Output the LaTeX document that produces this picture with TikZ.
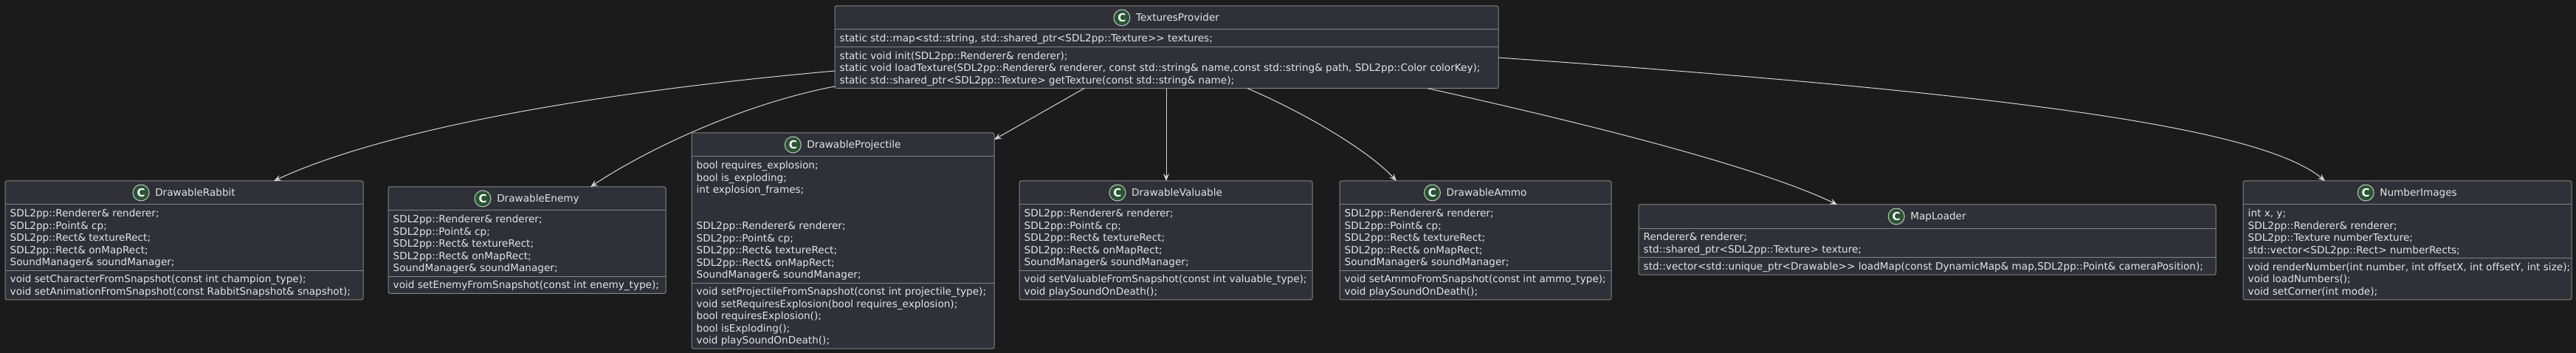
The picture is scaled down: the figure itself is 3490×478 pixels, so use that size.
\documentclass[tikz,border=0pt]{standalone}
\usepackage{fontspec}
\setmainfont{DejaVu Sans}[Ligatures={TeXOff,CommonOff}]
\usetikzlibrary{arrows.meta,calc}
\definecolor{bgcol}{HTML}{1B1B1B}
\definecolor{boxfill}{HTML}{2F3038}
\definecolor{boxline}{HTML}{858585}
\definecolor{txtcol}{HTML}{E6E6E6}
\definecolor{edgecol}{HTML}{D6D6D6}
\definecolor{iconfill}{HTML}{2A5433}
\definecolor{iconline}{HTML}{BFC8BF}
\tikzset{
  classbox/.style={draw=boxline, fill=boxfill, line width=1pt, rounded corners=2.5pt, inner sep=0pt, outer sep=0pt},
  sepline/.style={draw=boxline, line width=1pt},
  titletext/.style={text=txtcol, inner sep=0pt, font=\fontsize{13.6}{16.4}\selectfont},
  memtext/.style={text=txtcol, inner sep=0pt, anchor=base west, font=\fontsize{13.6}{16.4}\selectfont},
  cicon/.style={circle, draw=iconline, fill=iconfill, line width=1pt, minimum size=22pt, inner sep=0pt, text=white, font=\fontsize{15}{16}\selectfont\bfseries},
  assoc/.style={draw=edgecol, line width=1pt, -{Stealth[length=10pt,width=8pt,inset=4pt]}},
}
% #1 name, #2 left, #3 top, #4 width, #5 title, #6 n attrs, #7 attrs, #8 n meths, #9 meths
\newcommand\umlclass[9]{%
  \pgfmathsetmacro\yA{#3+32}%
  \pgfmathsetmacro\yB{\yA+#6*16.4+7}%
  \pgfmathsetmacro\yC{\yB+#8*16.4+7}%
  \pgfmathsetmacro\hh{\yC-#3}%
  \node[classbox, minimum width=#4pt, minimum height=\hh pt, anchor=north west] (#1) at (#2,#3) {};
  \draw[sepline] (#2,\yA) -- (#2+#4,\yA);
  \draw[sepline] (#2,\yB) -- (#2+#4,\yB);
  \node[titletext, anchor=base] (#1-t) at (#2+#4/2+15, #3+21) {#5};
  \node[cicon] (#1-c) at ($(#1-t.base west)+(-19,-5)$) {C};
  \foreach \t [count=\i from 0] in {#7} {\node[memtext] (#1-a\i) at (#2+6.5, \yA+16.9+16.4*\i) {\t};}
  \foreach \t [count=\i from 0] in {#9} {\node[memtext] (#1-m\i) at (#2+6.5, \yB+16.9+16.4*\i) {\t};}
}
\begin{document}
\begin{tikzpicture}[x=1pt, y=-1pt]
\fill[bgcol] (0,0) rectangle (3490,478);
\useasboundingbox (0,0) rectangle (3490,478);

\umlclass{tp}{1131}{8}{899}{TexturesProvider}{1}
  {{static std::map<std::string, std::shared\_ptr<SDL2pp::Texture>> textures;}}
  {3}
  {{static void init(SDL2pp::Renderer\& renderer);},
   {static void loadTexture(SDL2pp::Renderer\& renderer, const std::string\& name,const std::string\& path, SDL2pp::Color colorKey);},
   {static std::shared\_ptr<SDL2pp::Texture> getTexture(const std::string\& name);}}

\umlclass{rabbit}{7}{245}{485}{DrawableRabbit}{5}
  {{SDL2pp::Renderer\& renderer;},{SDL2pp::Point\& cp;},{SDL2pp::Rect\& textureRect;},{SDL2pp::Rect\& onMapRect;},{SoundManager\& soundManager;}}
  {2}
  {{void setCharacterFromSnapshot(const int champion\_type);},{void setAnimationFromSnapshot(const RabbitSnapshot\& snapshot);}}

\umlclass{enemy}{526}{253}{376}{DrawableEnemy}{5}
  {{SDL2pp::Renderer\& renderer;},{SDL2pp::Point\& cp;},{SDL2pp::Rect\& textureRect;},{SDL2pp::Rect\& onMapRect;},{SoundManager\& soundManager;}}
  {1}
  {{void setEnemyFromSnapshot(const int enemy\_type);}}

\umlclass{proj}{937}{180}{410}{DrawableProjectile}{10}
  {{bool requires\_explosion;},{bool is\_exploding;},{int explosion\_frames;},{},{},{SDL2pp::Renderer\& renderer;},{SDL2pp::Point\& cp;},{SDL2pp::Rect\& textureRect;},{SDL2pp::Rect\& onMapRect;},{SoundManager\& soundManager;}}
  {5}
  {{void setProjectileFromSnapshot(const int projectile\_type);},{void setRequiresExplosion(bool requires\_explosion);},{bool requiresExplosion();},{bool isExploding();},{void playSoundOnDeath();}}

\umlclass{valuable}{1381}{245}{397}{DrawableValuable}{5}
  {{SDL2pp::Renderer\& renderer;},{SDL2pp::Point\& cp;},{SDL2pp::Rect\& textureRect;},{SDL2pp::Rect\& onMapRect;},{SoundManager\& soundManager;}}
  {2}
  {{void setValuableFromSnapshot(const int valuable\_type);},{void playSoundOnDeath();}}

\umlclass{ammo}{1815}{245}{368}{DrawableAmmo}{5}
  {{SDL2pp::Renderer\& renderer;},{SDL2pp::Point\& cp;},{SDL2pp::Rect\& textureRect;},{SDL2pp::Rect\& onMapRect;},{SoundManager\& soundManager;}}
  {2}
  {{void setAmmoFromSnapshot(const int ammo\_type);},{void playSoundOnDeath();}}

\umlclass{maploader}{2220}{277}{782}{MapLoader}{2}
  {{Renderer\& renderer;},{std::shared\_ptr<SDL2pp::Texture> texture;}}
  {1}
  {{std::vector<std::unique\_ptr<Drawable>> loadMap(const DynamicMap\& map,SDL2pp::Point\& cameraPosition);}}

\umlclass{numimg}{3039}{245}{445}{NumberImages}{4}
  {{int x, y;},{SDL2pp::Renderer\& renderer;},{SDL2pp::Texture numberTexture;},{std::vector<SDL2pp::Rect> numberRects;}}
  {3}
  {{void renderNumber(int number, int offsetX, int offsetY, int size);},{void loadNumbers();},{void setCorner(int mode);}}

% connectors
\draw[assoc] ($(tp.north west)+(0,88)$) .. controls +(-381,34) and +(129,-60) .. ($(rabbit.north west)+(364,0)$);
\draw[assoc] ($(tp.north west)+(0,109)$) .. controls +(-121,23) and +(80,-53) .. ($(enemy.north west)+(274,0)$);
\draw[assoc] ($(tp.south west)+(338,0)$) -- ($(proj.north east)+(0,9)$);
\draw[assoc] ($(tp.south west)+(449,0)$) -- ($(valuable.north west)+(199,0)$);
\draw[assoc] ($(tp.south west)+(559,0)$) .. controls +(70,30) and +(-42,-45) .. ($(ammo.north west)+(77,0)$);
\draw[assoc] ($(tp.south west)+(803,0)$) .. controls +(216,48) and +(-109,-52) .. ($(maploader.north west)+(269,0)$);
\draw[assoc] ($(tp.north east)+(0,70)$) .. controls +(670,47) and +(-90,-75) .. ($(numimg.north west)+(111,0)$);
\end{tikzpicture}
\end{document}
